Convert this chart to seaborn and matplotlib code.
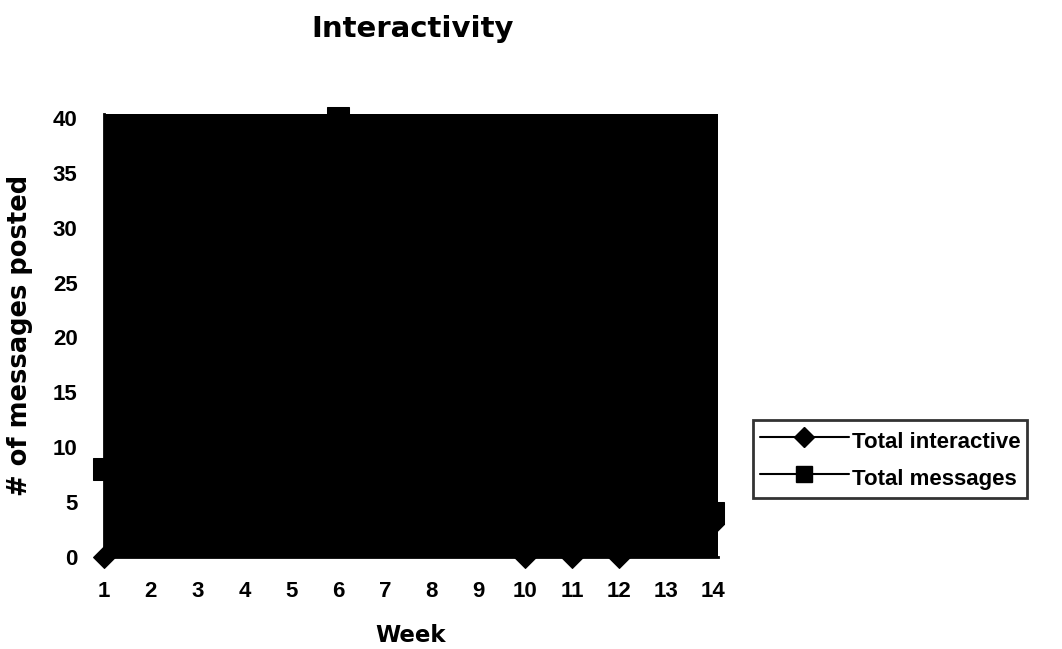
import matplotlib
matplotlib.use("Agg")
import matplotlib.pyplot as plt
import seaborn as sns
import pandas as pd
from matplotlib.lines import Line2D

weeks = list(range(1, 15))
total_interactive = [0, 5, 8, 12, 14, 15, 10, 6, 3, 0, 0, 0, 1, 3]
total_messages = [8, 22, 30, 35, 38, 40, 37, 33, 28, 20, 15, 10, 6, 4]
series_names = ["Total interactive", "Total messages"]
y_ticks = [0, 5, 10, 15, 20, 25, 30, 35, 40]

interactive_df = pd.DataFrame({"Week": weeks, "Messages": total_interactive})
messages_df = pd.DataFrame({"Week": weeks, "Messages": total_messages})

sns.set_style("white")
plt.rcParams["font.family"] = ["Liberation Sans", "DejaVu Sans"]
for key in ["text.color", "axes.labelcolor", "xtick.color", "ytick.color", "axes.edgecolor"]:
    plt.rcParams[key] = "black"

fig = plt.figure(figsize=(10.62, 6.49), dpi=100)
ax = fig.add_axes([0.0979, 0.1418, 0.578, 0.6826])
ax.set_facecolor("black")

# Both series share the black plot area, drawn in black with black markers
sns.lineplot(data=interactive_df, x="Week", y="Messages", color="black",
             marker="D", markersize=11, markeredgecolor="black",
             linewidth=1.5, ax=ax, clip_on=False, zorder=6)
sns.lineplot(data=messages_df, x="Week", y="Messages", color="black",
             marker="s", markersize=16.5, markeredgecolor="black",
             linewidth=1.5, ax=ax, clip_on=False, zorder=5)

ax.set_xlim(1, 14.107)
ax.set_ylim(0, 40.36)
ax.set_xticks(weeks)
ax.set_yticks(y_ticks)
ax.tick_params(axis="both", labelsize=16, length=6, width=2.2, direction="out")
ax.tick_params(axis="x", pad=11.5)
ax.tick_params(axis="y", pad=13)
for lbl in ax.get_xticklabels() + ax.get_yticklabels():
    lbl.set_fontweight("bold")
for side in ["left", "bottom"]:
    ax.spines[side].set_linewidth(2)
for side in ["top", "right"]:
    ax.spines[side].set_visible(False)

ax.set_xlabel("Week", fontsize=16.5, fontweight="bold", family="DejaVu Sans")
ax.xaxis.label.set_va("baseline")
ax.xaxis.set_label_coords(0.5, -0.192)
ax.set_ylabel("# of messages posted", fontsize=18.5, fontweight="bold",
              family="DejaVu Sans")
ax.yaxis.set_label_coords(-0.116, 0.5)

fig.text(413 / 1062, 1 - 37 / 649, "Interactivity", fontsize=21,
         fontweight="bold", family="DejaVu Sans", ha="center", va="baseline")

handles = [
    Line2D([], [], color="black", marker="D", markersize=10, linewidth=1.5),
    Line2D([], [], color="black", marker="s", markersize=12, linewidth=1.5),
]
leg = fig.legend(handles, series_names, loc="upper left",
                 bbox_to_anchor=(753 / 1062, 1 - 420 / 649),
                 bbox_transform=fig.transFigure, borderaxespad=0,
                 frameon=True, fancybox=False, edgecolor="black",
                 prop={"size": 16, "weight": "bold"},
                 handlelength=4.0, handleheight=1.5, handletextpad=0.15,
                 borderpad=0.3, labelspacing=0.45)
leg.get_frame().set_linewidth(2)

fig.savefig("out.png", dpi=100)
